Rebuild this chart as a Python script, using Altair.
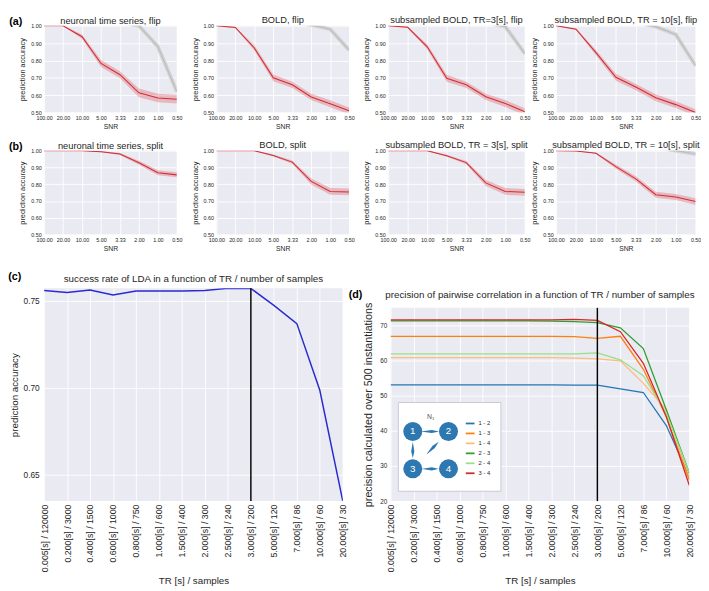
import json
import altair as alt
import pandas as pd

FONT = "Liberation Sans"
BG = "#EAEAF2"
TXT = "#262626"
RED = "#cf2f33"
BAND = "#e0505a"

# ---------------- data ----------------
snr_labels = ["100.00", "20.00", "10.00", "5.00", "3.33", "2.00", "1.00", "0.50"]
acc_ticks = [0.5, 0.6, 0.7, 0.8, 0.9, 1.0]

flip_titles = ["neuronal time series, flip", "BOLD, flip",
               "subsampled BOLD, TR=3[s], flip", "subsampled BOLD, TR = 10[s], flip"]
split_titles = ["neuronal time series, split", "BOLD, split",
                "subsampled BOLD, TR = 3[s], split", "subsampled BOLD, TR = 10[s], split"]

a1_acc = [1.000, 1.000, 0.937, 0.783, 0.718, 0.614, 0.584, 0.577]
a1_ci = [0.002, 0.002, 0.012, 0.020, 0.020, 0.025, 0.025, 0.025]
a1_ref = [None, None, None, None, 1.02, 1.00, 0.88, 0.62]

a2_acc = [1.000, 0.990, 0.872, 0.700, 0.660, 0.590, 0.551, 0.510]
a2_ci = [0.002, 0.004, 0.015, 0.020, 0.018, 0.018, 0.020, 0.020]
a2_ref = [None, None, None, None, 1.02, 1.005, 0.98, 0.86]

a3_acc = [1.000, 0.991, 0.879, 0.698, 0.660, 0.591, 0.552, 0.505]
a3_ci = [0.002, 0.004, 0.015, 0.020, 0.018, 0.018, 0.020, 0.020]
a3_ref = [None, None, None, None, None, 1.02, 0.995, 0.84]

a4_acc = [1.000, 0.980, 0.845, 0.703, 0.647, 0.585, 0.546, 0.500]
a4_ci = [0.002, 0.005, 0.015, 0.020, 0.018, 0.020, 0.020, 0.020]
a4_ref = [None, None, None, None, 1.02, 0.995, 0.95, 0.77]

b1_acc = [1.000, 1.000, 1.000, 0.994, 0.980, 0.928, 0.868, 0.856]
b1_ci = [0.001, 0.001, 0.002, 0.004, 0.006, 0.012, 0.015, 0.015]
b1_ref = [None] * 8

b2_acc = [1.000, 1.000, 1.000, 0.971, 0.932, 0.817, 0.757, 0.754]
b2_ci = [0.001, 0.001, 0.002, 0.006, 0.010, 0.018, 0.020, 0.020]
b2_ref = [None] * 8

b3_acc = [1.000, 1.000, 1.000, 0.970, 0.929, 0.808, 0.757, 0.752]
b3_ci = [0.001, 0.001, 0.002, 0.006, 0.010, 0.018, 0.020, 0.020]
b3_ref = [None] * 8

b4_acc = [1.000, 0.998, 0.985, 0.905, 0.832, 0.738, 0.724, 0.697]
b4_ci = [0.001, 0.002, 0.004, 0.012, 0.015, 0.018, 0.018, 0.020]
b4_ref = [None, None, None, None, None, 1.02, 1.0, 0.98]

tr_labels = ["0.005[s] / 120000", "0.200[s] / 3000", "0.400[s] / 1500", "0.600[s] / 1000",
             "0.800[s] / 750", "1.000[s] / 600", "1.500[s] / 400", "2.000[s] / 300",
             "2.500[s] / 240", "3.000[s] / 200", "5.000[s] / 120", "7.000[s] / 86",
             "10.000[s] / 60", "20.000[s] / 30"]
tr_marker = "3.000[s] / 200"

lda_acc = [0.7560, 0.7549, 0.7563, 0.7535, 0.7558, 0.7558, 0.7558, 0.7560,
           0.7573, 0.7572, 0.7475, 0.7370, 0.6987, 0.6350]
lda_ticks = [0.65, 0.70, 0.75]

pairs = ["1 - 2", "1 - 3", "1 - 4", "2 - 3", "2 - 4", "3 - 4"]
pair_colors = ["#1f77b4", "#ff7f0e", "#ffbb78", "#2ca02c", "#98df8a", "#d62728"]
p12 = [53.1, 53.1, 53.1, 53.1, 53.1, 53.1, 53.1, 53.1, 53.0, 53.0, 51.9, 50.9, 41.5, 27.0]
p13 = [66.9, 66.9, 66.9, 66.9, 66.9, 66.9, 66.9, 66.9, 66.8, 66.3, 66.9, 57.5, 44.0, 26.0]
p14 = [60.8, 60.8, 60.8, 60.8, 60.8, 60.8, 60.8, 60.8, 60.7, 60.5, 59.9, 53.5, 46.0, 27.0]
p23 = [71.3, 71.3, 71.3, 71.3, 71.3, 71.3, 71.3, 71.2, 71.1, 70.8, 69.3, 63.4, 46.0, 28.0]
p24 = [61.9, 61.9, 61.9, 61.9, 61.9, 61.9, 61.9, 61.9, 61.9, 62.2, 60.2, 55.7, 45.0, 28.0]
p34 = [71.6, 71.6, 71.6, 71.6, 71.6, 71.6, 71.6, 71.6, 71.7, 71.4, 68.2, 59.2, 44.0, 24.5]
prec_ticks = [20, 30, 40, 50, 60, 70]
prec_domain = [20, 75]

# inset network diagram (grid layout of the nodes)
node_names = ["1", "2", "3", "4"]
node_col = [0, 1, 0, 1]
node_row = [0, 0, 1, 1]
edges = [("1", "2"), ("1", "3"), ("3", "2"), ("3", "4")]
edge_start = [0.27, 0.30, 0.40, 0.27]
edge_end = [0.71, 0.69, 0.71, 0.71]


# ---------------- helpers ----------------
def grid_axis(**kw):
    base = dict(grid=True, gridColor="white", gridWidth=0.9, domain=False, ticks=False,
                labelColor=TXT, titleColor=TXT, titleFontWeight="normal")
    base.update(kw)
    return alt.Axis(**base)


def tag_layer(text, dx, dy):
    return alt.Chart(pd.DataFrame({"t": [text]})).mark_text(
        font=FONT, fontSize=11, fontWeight="bold", color="black", align="center",
        baseline="middle"
    ).encode(x=alt.value(dx), y=alt.value(dy), text="t:N")


def panel_title(text, size, dy):
    return alt.TitleParams(text, fontSize=size, offset=0, dy=dy, frame="group", font=FONT,
                           fontWeight="normal", color=TXT)


def snr_panel(title, acc, ci, ref, width, height, tag=None):
    n = len(snr_labels)
    df = pd.DataFrame({"snr": snr_labels, "i": list(range(n)), "acc": acc, "ci": ci,
                       "ref": [float("nan") if v is None else v for v in ref]})
    df["lo"] = df["acc"] - df["ci"]
    df["hi"] = df["acc"] + df["ci"]
    xs = alt.Scale(domain=[0, n - 1], nice=False, zero=False)
    ys = alt.Scale(domain=[min(acc_ticks), max(acc_ticks)], nice=False, zero=False)
    xa = grid_axis(values=list(range(n)), labelExpr=json.dumps(snr_labels) + "[datum.value]",
                   title="SNR", labelFontSize=5.5, titleFontSize=7, labelPadding=3, titlePadding=2,
                   labelFlush=False, labelOverlap=False)
    ya = grid_axis(values=acc_ticks, format=".2f", title="prediction accuracy", labelFontSize=5.5,
                   titleFontSize=7.5, labelPadding=3, titlePadding=4)
    X = alt.X("i:Q", scale=xs, axis=xa)
    base = alt.Chart(df)
    layers = []
    if df["ref"].notna().any():
        refd = base.transform_filter("isValid(datum.ref)")
        layers.append(refd.mark_line(color="#d4d4d4", strokeWidth=4, clip=True)
                      .encode(X, alt.Y("ref:Q", scale=ys, axis=ya)))
        layers.append(refd.mark_line(color="#bdbdbd", strokeWidth=1.2, clip=True)
                      .encode(X, alt.Y("ref:Q", scale=ys, axis=ya)))
    layers.append(base.mark_area(color=BAND, opacity=0.33, clip=True)
                  .encode(X, alt.Y("lo:Q", scale=ys, axis=ya), alt.Y2("hi:Q")))
    layers.append(base.mark_line(color=RED, strokeWidth=1.1, clip=True)
                  .encode(X, alt.Y("acc:Q", scale=ys, axis=ya)))
    if tag:
        layers.append(tag_layer(tag, -29, -4))
    return alt.layer(*layers).properties(
        width=width, height=height, title=panel_title(title, 9.5, 10 if tag else 1),
        view=alt.ViewBackground(fill=BG, strokeWidth=0),
    )


def tr_x_axis():
    n = len(tr_labels)
    return grid_axis(values=list(range(n)), labelExpr=json.dumps(tr_labels) + "[datum.value]",
                     labelAngle=270, labelFontSize=9, labelPadding=3, title="TR [s] / samples",
                     titleFontSize=10, titlePadding=4, labelFlush=False, labelOverlap=False)


# ---------------- panels (a), (b) ----------------
W = [136, 136, 140, 143]
HA, HB = 89, 86
a_data = [(a1_acc, a1_ci, a1_ref), (a2_acc, a2_ci, a2_ref), (a3_acc, a3_ci, a3_ref), (a4_acc, a4_ci, a4_ref)]
b_data = [(b1_acc, b1_ci, b1_ref), (b2_acc, b2_ci, b2_ref), (b3_acc, b3_ci, b3_ref), (b4_acc, b4_ci, b4_ref)]

a_p = [snr_panel(flip_titles[k], *a_data[k], W[k], HA, "(a)" if k == 0 else None) for k in range(4)]
b_p = [snr_panel(split_titles[k], *b_data[k], W[k], HB, "(b)" if k == 0 else None) for k in range(4)]


def snr_row(p):
    return alt.hconcat(alt.hconcat(p[0], p[1], spacing=8.5),
                       alt.hconcat(p[2], p[3], spacing=0),
                       spacing=8.5)


row_a = snr_row(a_p)
row_b = snr_row(b_p)

# ---------------- panel (c) ----------------
CW, CH = 306, 218
nt = len(tr_labels)
lda_df = pd.DataFrame({"tr": tr_labels, "i": list(range(nt)), "acc": lda_acc})
c_xs = alt.Scale(domain=[0, nt - 1], nice=False, zero=False)
c_ys = alt.Scale(domain=[min(lda_acc), max(lda_acc)], nice=False, zero=False)
c_ya = grid_axis(values=lda_ticks, format=".2f", title="prediction accuracy", labelFontSize=8.5,
                 titleFontSize=10, labelPadding=5, titlePadding=4)
c_X = alt.X("i:Q", scale=c_xs, axis=tr_x_axis())
marker_df = pd.DataFrame({"i": [tr_labels.index(tr_marker)]})

c_line = alt.Chart(lda_df).mark_line(color="#2a2ad0", strokeWidth=1.5, clip=True).encode(
    c_X, alt.Y("acc:Q", scale=c_ys, axis=c_ya))
c_rule = alt.Chart(marker_df).mark_rule(color="black", strokeWidth=1.5).encode(c_X)
c_chart = alt.layer(c_line, c_rule, tag_layer("(c)", -30, -11)).properties(
    width=CW, height=CH,
    title=panel_title("success rate of LDA in a function of TR / number of samples", 10, 13),
    view=alt.ViewBackground(fill=BG, strokeWidth=0),
)

# ---------------- panel (d) ----------------
DW, DH = 306, 198
series = [p12, p13, p14, p23, p24, p34]
d_rows = []
for name, vals in zip(pairs, series):
    for i, v in enumerate(vals):
        d_rows.append({"pair": name, "i": i, "tr": tr_labels[i], "v": v})
d_df = pd.DataFrame(d_rows)
d_xs = alt.Scale(domain=[0, nt - 1], nice=False, zero=False)
d_ys = alt.Scale(domain=prec_domain, nice=False, zero=False)
d_ya = grid_axis(values=prec_ticks, format="d", title="precision calculated over 500 instantiations",
                 labelFontSize=6.5, titleFontSize=11, labelPadding=4, titlePadding=6)
d_X = alt.X("i:Q", scale=d_xs, axis=tr_x_axis())
d_lines = alt.Chart(d_df).mark_line(strokeWidth=1.3, clip=True).encode(
    d_X, alt.Y("v:Q", scale=d_ys, axis=d_ya),
    color=alt.Color("pair:N", scale=alt.Scale(domain=pairs, range=pair_colors),
                    legend=alt.Legend(orient="none", legendX=76, legendY=113, title=None,
                                      symbolType="stroke", symbolSize=81, symbolStrokeWidth=1.8,
                                      labelFontSize=6, labelFont=FONT, labelColor=TXT,
                                      rowPadding=0.2, labelOffset=3, padding=0)),
    detail="pair:N",
)
d_rule = alt.Chart(marker_df).mark_rule(color="black", strokeWidth=1.5).encode(d_X)
d_main = alt.layer(d_lines, d_rule, tag_layer("(d)", -36, -13))

# inset: network diagram in its own grid units
ins_x = alt.Scale(domain=[-0.62, 7.74], nice=False, zero=False)
ins_y = alt.Scale(domain=[-0.862, 4.308], nice=False, zero=False)
nodes_df = pd.DataFrame({"n": node_names, "x": node_col, "y": [1 - r for r in node_row]})
box_df = pd.DataFrame({"x": [-0.402], "x2": [2.467], "y": [-0.60], "y2": [1.775]})
title_df = pd.DataFrame({"t": ["N\u2081"], "x": [0.5], "y": [1.392]})
pos = {n: (c, 1 - r) for n, c, r in zip(node_names, node_col, node_row)}
trail_rows = []
for k, ((s, e), t0, t1) in enumerate(zip(edges, edge_start, edge_end)):
    (x0, y0), (x1, y1) = pos[s], pos[e]
    for t, w in [(t0, 0.4), (t0 + 0.6 * (t1 - t0), 3.2), (t1, 0.4)]:
        trail_rows.append({"e": k, "t": t, "x": x0 + t * (x1 - x0), "y": y0 + t * (y1 - y0), "w": w})
trail_df = pd.DataFrame(trail_rows)


def IX(f):
    return alt.X(f, scale=ins_x, axis=None)


def IY(f):
    return alt.Y(f, scale=ins_y, axis=None)


NODE = "#2e78b2"
inset_box = alt.Chart(box_df).mark_rect(fill="white", stroke="#c8c8d8", strokeWidth=1).encode(
    IX("x:Q"), IY("y:Q"), x2="x2:Q", y2="y2:Q")
inset_trails = alt.Chart(trail_df).mark_trail(color=NODE).encode(
    IX("x:Q"), IY("y:Q"), size=alt.Size("w:Q", scale=None), detail="e:N", order="t:Q")
inset_nodes = alt.Chart(nodes_df).mark_circle(size=380, color=NODE, opacity=1).encode(IX("x:Q"), IY("y:Q"))
inset_labels = alt.Chart(nodes_df).mark_text(color="white", fontSize=10, font=FONT).encode(
    IX("x:Q"), IY("y:Q"), text="n:N")
inset_title = alt.Chart(title_df).mark_text(color="#555555", fontSize=7, font=FONT).encode(
    IX("x:Q"), IY("y:Q"), text="t:N")
inset = alt.layer(inset_box, inset_trails, inset_nodes, inset_labels, inset_title)

d_chart = alt.layer(d_main, inset).resolve_scale(x="independent", y="independent").properties(
    width=DW, height=DH,
    title=panel_title("precision of pairwise correlation in a function of TR / number of samples", 10, 11),
    view=alt.ViewBackground(fill=BG, strokeWidth=0),
)

# empty strip that keeps the (d) plot a little lower than the (c) plot
spacer = alt.Chart(pd.DataFrame({"z": [0]})).mark_rule(strokeWidth=0, opacity=0).encode(
    x=alt.value(0), y=alt.value(0), y2=alt.value(0)).properties(width=DW, height=1)

d_col = alt.vconcat(spacer, d_chart, spacing=0).resolve_scale(color="independent")
row_cd = alt.hconcat(c_chart, d_col, spacing=0).resolve_scale(color="independent")

chart = alt.vconcat(alt.vconcat(row_a, row_b, spacing=10), row_cd, spacing=20).resolve_scale(
    color="independent").properties(padding=0).configure(font=FONT).configure_view(
    strokeWidth=0).configure_axis(labelFont=FONT, titleFont=FONT)

chart.save("out.html", embed_options={"renderer": "svg", "actions": False})
